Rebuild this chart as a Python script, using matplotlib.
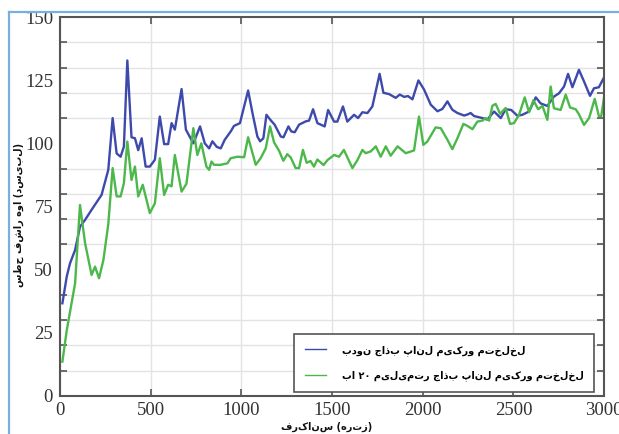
import matplotlib
matplotlib.use('Agg')
import matplotlib.pyplot as plt
from matplotlib.lines import Line2D
from matplotlib.ticker import MultipleLocator

# frequency (Hz) / sound pressure level (dB) for the bare wall
freq_a = [13, 37, 55, 83, 110, 138, 174, 229, 266, 290, 312, 334, 352, 371, 394, 413, 431, 450,
          472, 495, 523, 550, 574, 596, 615, 633, 670, 694, 735, 772, 798, 822, 840, 864, 886,
          908, 941, 959, 992, 1037, 1061, 1088, 1103, 1121, 1138, 1162, 1183, 1217, 1232, 1259,
          1275, 1294, 1318, 1355, 1373, 1395, 1419, 1459, 1478, 1511, 1529, 1560, 1584, 1621,
          1643, 1667, 1695, 1722, 1762, 1783, 1814, 1851, 1873, 1897, 1919, 1943, 1976, 2007,
          2044, 2081, 2108, 2136, 2163, 2191, 2228, 2246, 2264, 2283, 2329, 2356, 2393, 2430,
          2457, 2488, 2522, 2549, 2586, 2623, 2650, 2687, 2723, 2751, 2779, 2801, 2825, 2861,
          2889, 2922, 2944, 2971, 3000]
spl_a = [36.7, 47.3, 52.5, 57.8, 67, 69.7, 73.7, 79.6, 89.5, 110, 96, 94.7, 98.7, 132.8, 102.4,
         102, 97.3, 102, 90.8, 90.8, 93.5, 110.6, 99.7, 99.7, 108, 105.4, 121.5, 105.4, 100,
         106.7, 100, 98, 100.8, 98.6, 98, 101.4, 104.7, 106.9, 108, 120.9, 112, 102.7, 100.8,
         102, 111.3, 109.1, 107.4, 102.7, 102.4, 106.7, 104.7, 104.4, 107.4, 108.7, 109, 113.5,
         108, 106.7, 113.2, 108.6, 108.6, 114.6, 108.6, 111.3, 110, 112.3, 112, 114.6, 127.5,
         120, 119.5, 118, 119.3, 118.4, 118.7, 117.4, 124.9, 121.3, 115.3, 112.7, 113.6, 116.6,
         113.3, 112, 111, 111.4, 112, 110.8, 110, 109.4, 112.6, 110, 113.5, 113.2, 110.9, 111.3,
         112.6, 118.2, 115.8, 114.8, 118.5, 119.8, 122.5, 127.5, 122.2, 129.1, 124.5, 118.8,
         121.8, 122.2, 126.2]

# with the 20 mm micro-perforated panel
freq_b = [13, 37, 83, 110, 138, 174, 193, 215, 239, 266, 290, 312, 334, 352, 371, 394, 413, 431,
          456, 495, 523, 550, 574, 596, 615, 633, 670, 697, 735, 757, 779, 807, 822, 835, 849,
          886, 923, 941, 978, 1015, 1037, 1079, 1106, 1134, 1158, 1180, 1208, 1231, 1253, 1272,
          1299, 1318, 1339, 1360, 1381, 1400, 1419, 1453, 1475, 1511, 1538, 1565, 1612, 1640,
          1667, 1685, 1713, 1741, 1768, 1796, 1823, 1861, 1906, 1952, 1979, 2003, 2025, 2071,
          2099, 2136, 2163, 2191, 2224, 2246, 2274, 2301, 2329, 2347, 2366, 2384, 2402, 2426,
          2457, 2481, 2503, 2531, 2562, 2586, 2610, 2636, 2660, 2687, 2705, 2723, 2760, 2788,
          2812, 2843, 2861, 2889, 2917, 2948, 2971, 2984, 3000]
spl_b = [13.6, 26, 44.6, 75.6, 60.5, 47.9, 51.2, 46.6, 53.8, 68, 90.2, 79, 79, 84.2, 100.7,
         85.5, 90.8, 79, 83.6, 72.4, 76.3, 94.1, 79.6, 83.6, 83, 95.4, 80.9, 84, 106, 95.4, 100,
         90.8, 89.5, 92.8, 91.5, 91.5, 92.1, 94.1, 94.7, 94.5, 102.4, 91.5, 94.1, 98, 106.7,
         100.4, 97, 93.1, 95.7, 94.4, 90.2, 90.2, 97.4, 92.3, 93, 90.8, 93.6, 91.4, 93.4, 95.4,
         94.7, 97.4, 90.2, 93.4, 97.4, 96.1, 96.8, 98.8, 94.7, 98.8, 95.1, 98.8, 96.1, 97.2,
         110.6, 99.4, 100.7, 106.3, 106, 101.4, 97.7, 102, 107.7, 106.9, 105.6, 108.6, 109, 110,
         109, 114.9, 115.6, 111.7, 114, 107.7, 108, 111.3, 118.2, 112.3, 117.1, 113.5, 114.8,
         109.3, 122.5, 113.9, 113.2, 119.3, 114.2, 113.5, 111.5, 107.3, 110, 117.6, 110.8,
         110.8, 118.5]

label_a = 'بدون جاذب پانل میکرو متخلخل'
label_b = 'با ۲۰ میلیمتر جاذب پانل میکرو متخلخل'
xlabel = 'فرکانس (هرتز)'
ylabel = 'سطح فشار هوا (دسیبل)'

LRM = '\u200E'


def ltr_words(text):
    # keep each word right-to-left but lay the words out left-to-right
    return LRM + (LRM + ' ' + LRM).join(text.split()) + LRM


blue = '#3d4aab'
green = '#4cb84b'
dark = '#555555'
fa_font = {'family': 'DejaVu Sans', 'weight': 'bold'}

fig = plt.figure(figsize=(6.19, 4.34), dpi=100)
ax = fig.add_axes([0.097, 0.0876, 0.879, 0.8732])

ax.plot(freq_a, spl_a, color=blue, lw=1.7, label=ltr_words(label_a))
ax.plot(freq_b, spl_b, color=green, lw=1.7, label=ltr_words(label_b))

ax.set_xlim(0, 3000)
ax.set_ylim(0, 150)
ax.xaxis.set_major_locator(MultipleLocator(500))
ax.yaxis.set_major_locator(MultipleLocator(25))
ax.yaxis.set_minor_locator(MultipleLocator(10))
ax.grid(True, axis='x', which='major', color='#e3e3e3', lw=1)
ax.grid(True, axis='y', which='minor', color='#e3e3e3', lw=1)
ax.set_axisbelow(True)

ax.tick_params(axis='x', which='major', direction='in', length=5, width=1.2, color=dark,
               top=True, labelsize=13.5, labelcolor='#333333', pad=4)
ax.tick_params(axis='y', which='major', length=0, labelsize=13.5, labelcolor='#333333', pad=5)
ax.tick_params(axis='y', which='minor', direction='in', length=5, width=1.2, color=dark,
               right=True)
for lab in ax.get_xticklabels() + ax.get_yticklabels():
    lab.set_family('Liberation Serif')
for s in ax.spines.values():
    s.set_color(dark)
    s.set_linewidth(1.5)

leg = ax.legend(loc='lower right', bbox_to_anchor=(0.982, 0.011), borderaxespad=0,
                frameon=True, fancybox=False, edgecolor=dark, framealpha=1,
                handlelength=2.2, handletextpad=1.6, borderpad=1.1, labelspacing=1.5,
                prop=dict(fa_font, size=7))
leg.get_frame().set_linewidth(1.2)
for h in leg.get_lines():
    h.set_linewidth(1.0)

fig.text(0.03, 0.505, ylabel, rotation=90, ha='center', va='center',
         size=7, color='#111111', **fa_font)
fig.text(0.527, 0.016, ltr_words(xlabel), ha='center', va='center',
         size=7, color='#111111', **fa_font)

# light blue page frame on the left and top
fig.add_artist(Line2D([9 / 619, 9 / 619], [0, 1 - 12 / 434], transform=fig.transFigure,
                      color='#7aaee0', lw=1.6))
fig.add_artist(Line2D([9 / 619, 1], [1 - 12 / 434, 1 - 12 / 434], transform=fig.transFigure,
                      color='#7aaee0', lw=1.6))

fig.savefig('out.png', dpi=100)
